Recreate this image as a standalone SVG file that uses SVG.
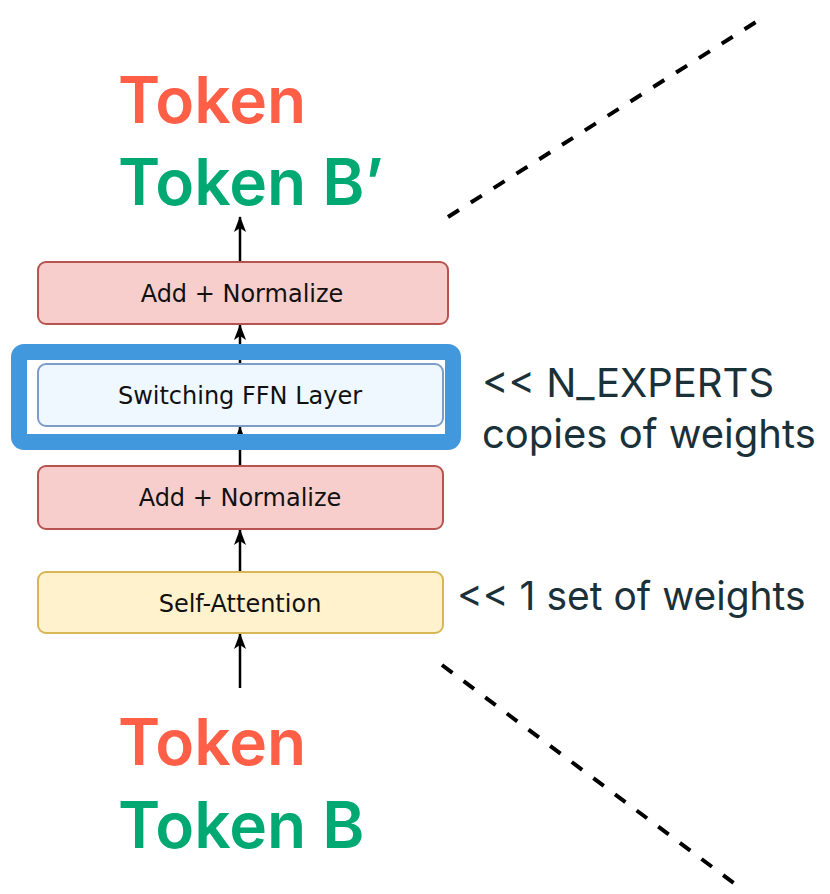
<svg xmlns="http://www.w3.org/2000/svg" width="830" height="894" viewBox="0 0 830 894">
  <defs>
    <!-- filled arrowhead, drawn along +x so orient="auto" points it along the line -->
    <marker id="arrowhead" viewBox="0 0 16 12" refX="15" refY="6" markerWidth="16" markerHeight="12" markerUnits="userSpaceOnUse" orient="auto">
      <path d="M16 6 L0 0 L4 6 L0 12 Z" fill="#000"/>
    </marker>
    <style>
      .box-red { fill: #F8CECC; stroke: #B85450; stroke-width: 2; }
      .box-blue { fill: #EEF8FE; stroke: #7E9CC8; stroke-width: 2; }
      .box-yellow { fill: #FFF2CC; stroke: #D6B656; stroke-width: 2; }
      .box-label { font-family: "DejaVu Sans", Verdana, sans-serif; font-size: 24px; fill: #111; text-anchor: middle; }
      .token { font-family: Inter, "Noto Sans", sans-serif; font-weight: 600; font-size: 64px; }
      .red { fill: #FF5F46; }
      .green { fill: #00A972; }
      .note { font-family: Inter, "Noto Sans", sans-serif; font-size: 40px; fill: #1B3139; }
      .note-small { font-size: 39px; }
      .arrow { stroke: #000; stroke-width: 2.5; fill: none; marker-end: url(#arrowhead); }
      .dash { stroke: #000; stroke-width: 4; stroke-dasharray: 13 14; fill: none; }
      .frame { fill: none; stroke: #4298DD; stroke-width: 16; }
    </style>
  </defs>

  <rect width="830" height="894" fill="#fff"/>

  <!-- output token labels -->
  <g id="output-tokens">
    <text class="token red" x="118" y="123">Token</text>
    <text class="token green" x="118" y="205">Token B’</text>
  </g>

  <!-- input token labels -->
  <g id="input-tokens">
    <text class="token red" x="118" y="765">Token</text>
    <text class="token green" x="118" y="848">Token B</text>
  </g>

  <!-- connectors -->
  <g id="connectors">
    <line class="arrow" x1="240" y1="262" x2="240" y2="217"/>
    <line class="arrow" x1="240" y1="364" x2="240" y2="325"/>
    <line class="arrow" x1="240" y1="466" x2="240" y2="427"/>
    <line class="arrow" x1="240" y1="572" x2="240" y2="530"/>
    <line class="arrow" x1="240" y1="688" x2="240" y2="634"/>
    <line class="dash" x1="448" y1="217" x2="767" y2="15"/>
    <line class="dash" x1="442" y1="665" x2="743" y2="890"/>
  </g>

  <g id="add-normalize-top">
    <rect class="box-red" x="38" y="262" width="410" height="62" rx="8"/>
    <text class="box-label" x="242" y="302">Add + Normalize</text>
  </g>

  <g id="switching-ffn">
    <rect class="box-blue" x="38" y="364" width="405" height="62" rx="8"/>
    <text class="box-label" x="240" y="404">Switching FFN Layer</text>
  </g>

  <g id="highlight-frame">
    <rect class="frame" x="19" y="352" width="434" height="90" rx="5"/>
  </g>

  <g id="add-normalize-bottom">
    <rect class="box-red" x="38" y="466" width="405" height="63" rx="8"/>
    <text class="box-label" x="240" y="506">Add + Normalize</text>
  </g>

  <g id="self-attention">
    <rect class="box-yellow" x="38" y="572" width="405" height="61" rx="8"/>
    <text class="box-label" x="240" y="612">Self-Attention</text>
  </g>

  <!-- side notes -->
  <g id="note-experts">
    <text class="note" x="482" y="397">&lt;&lt; N_EXPERTS</text>
    <text class="note" x="482" y="448">copies of weights</text>
  </g>
  <g id="note-attention">
    <text class="note note-small" x="457" y="610">&lt;&lt; 1 set of weights</text>
  </g>
</svg>
